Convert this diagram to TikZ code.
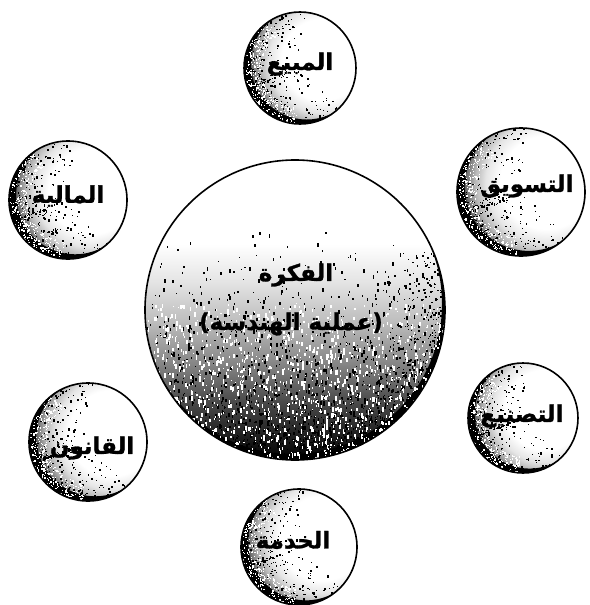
\documentclass[tikz,border=0pt]{standalone}
\usepackage{fontspec}
\newfontfamily\arabicfont[Script=Arabic,BoldFont={DejaVu Sans Bold},BoldFeatures={FakeBold=1.2}]{DejaVu Sans}
\newfontfamily\latinfont[BoldFont={DejaVu Sans Bold},BoldFeatures={FakeBold=1.2}]{DejaVu Sans}
\TeXXeTstate=1
\pgfdeclareradialshading{sph}{\pgfpointorigin}{%
  color(0bp)=(white); color(13bp)=(white); color(17bp)=(black!10);
  color(20bp)=(black!28); color(22.5bp)=(black!55); color(24bp)=(black!85);
  color(25bp)=(black); color(50bp)=(black)}
\pgfdeclareverticalshading{bigsh}{100bp}{%
  color(0bp)=(black); color(25bp)=(black); color(27bp)=(black!94);
  color(30bp)=(black!85); color(35bp)=(black!70); color(41bp)=(black!48);
  color(48bp)=(black!26); color(55bp)=(black!10); color(61bp)=(white);
  color(100bp)=(white)}
\tikzset{
  bub/.style={circle, draw=black, line width=1.6pt, inner sep=0pt},
  lbl/.style={font=\arabicfont\bfseries\fontsize{23}{27}\selectfont, align=center}
}
% #1 cx, #2 cy, #3 r, #4 number of dots
\newcommand\stipsmall[4]{%
  \begin{scope}
    \clip (#1,#2) circle (#3);
    \shade[shading=sph] ({#1+0.4*#3},{#2-0.15*#3}) circle ({1.4*#3});
    \fill[black, even odd rule] (#1,#2) circle (#3)
      ({#1+0.12*#3},{#2-0.08*#3}) circle (#3);
    \foreach \i in {1,...,#4}{%
      \pgfmathsetmacro\uu{2*rnd-1}%
      \pgfmathsetmacro\ang{160+115*\uu*abs(\uu)}%
      \pgfmathsetmacro\rr{#3*(1-0.95*rnd*rnd)}%
      \pgfmathsetmacro\ds{0.7+1.4*rnd}%
      \fill[black] ({#1+\rr*cos(\ang)},{#2+\rr*sin(\ang)}) rectangle ++(\ds,{\ds*(0.6+0.8*rnd)});
    }
    \foreach \i in {1,...,#4}{%
      \pgfmathsetmacro\uu{2*rnd-1}%
      \pgfmathsetmacro\ang{165+70*\uu}%
      \pgfmathsetmacro\rr{#3*(1-0.3*rnd)}%
      \pgfmathsetmacro\ds{0.6+1.0*rnd}%
      \fill[white] ({#1+\rr*cos(\ang)},{#2+\rr*sin(\ang)}) rectangle ++(\ds,{\ds*(0.6+0.8*rnd)});
    }
  \end{scope}}
\begin{document}
\begin{tikzpicture}[x=1pt,y=-1pt]
\useasboundingbox (0,0) rectangle (589,605);
\fill[white] (0,0) rectangle (589,605);
\pgfmathsetseed{4711}
% big circle stipple
\begin{scope}
  \clip (295,310) circle (150);
  \shade[shading=bigsh] (145,160) rectangle (445,460);
  \fill[black, even odd rule] (295,310) circle (150) (292,304) circle (150);
  \foreach \i in {1,...,1600}{%
    \pgfmathsetmacro\xx{295+150*(2*rnd-1)}%
    \pgfmathsetmacro\yy{310+150*(-0.62+1.62*pow(rnd,0.45))}%
    \pgfmathsetmacro\ds{0.7+1.4*rnd}%
    \fill[black] (\xx,\yy) rectangle ++(\ds,{\ds*(1+1.5*rnd)});
  }
  \foreach \i in {1,...,1600}{%
    \pgfmathsetmacro\xx{295+150*(2*rnd-1)}%
    \pgfmathsetmacro\yy{310+150*(-0.05+1.05*pow(rnd,0.8))}%
    \pgfmathsetmacro\ds{0.7+1.4*rnd}%
    \fill[white] (\xx,\yy) rectangle ++(\ds,{\ds*(1+1.8*rnd)});
  }
  \foreach \i in {1,...,450}{%
    \pgfmathsetmacro\uu{2*rnd-1}%
    \pgfmathsetmacro\ang{45+70*\uu}%
    \pgfmathsetmacro\rr{150*(1-0.45*rnd*rnd)}%
    \pgfmathsetmacro\ds{0.7+1.4*rnd}%
    \fill[black] ({295+\rr*cos(\ang)},{310+\rr*sin(\ang)}) rectangle ++(\ds,\ds);
  }
\end{scope}
\stipsmall{300}{68}{56}{340}
\stipsmall{521}{192}{64}{380}
\stipsmall{68}{200}{59}{340}
\stipsmall{523}{418}{55}{320}
\stipsmall{88}{442}{59}{340}
\stipsmall{299}{547}{58}{340}
% nodes
\node[bub, minimum size=300pt] (idea) at (295,310) {};
\node[lbl] (idea1) at (296,275) {\beginR الفكرة\endR};
\node[lbl] (idea2) at (291,324) {{\latinfont\bfseries(}\beginR عملية الهندسة\endR{\latinfont\bfseries)}};
\node[bub, minimum size=112pt] (sales) at (300,68) {};
\node[lbl] at (300,64) {\beginR المبيع\endR};
\node[bub, minimum size=128pt] (mkt) at (521,192) {};
\node[lbl] at (527,186) {\beginR التسويق\endR};
\node[bub, minimum size=118pt] (fin) at (68,200) {};
\node[lbl] at (68,196) {\beginR المالية\endR};
\node[bub, minimum size=110pt] (mfg) at (523,418) {};
\node[lbl] at (522,416) {\beginR التصنيع\endR};
\node[bub, minimum size=118pt] (law) at (88,442) {};
\node[lbl] at (92,448) {\beginR القانون\endR};
\node[bub, minimum size=116pt] (svc) at (299,547) {};
\node[lbl] at (293,540) {\beginR الخدمة\endR};
\end{tikzpicture}
\end{document}
